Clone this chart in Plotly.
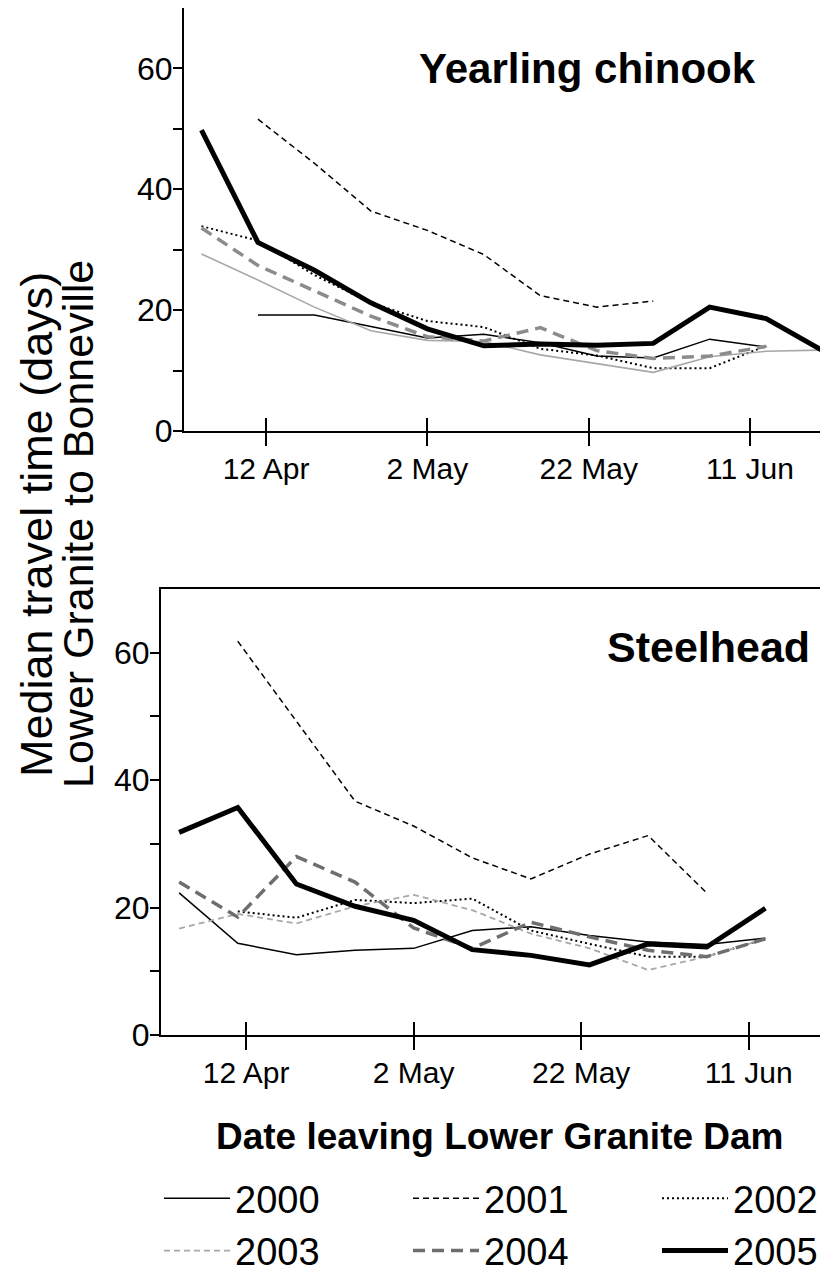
import plotly.graph_objects as go

# ---------------- data ----------------
dates = ["2005-04-04", "2005-04-11", "2005-04-18", "2005-04-25", "2005-05-02", "2005-05-09",
         "2005-05-16", "2005-05-23", "2005-05-30", "2005-06-06", "2005-06-13", "2005-06-20"]
years = ["2000", "2001", "2002", "2003", "2004", "2005"]

# Yearling chinook (top panel)
chinook_2000 = [None, 19.2, 19.2, 17.3, 15.4, 16.0, 14.6, 12.4, 12.1, 15.2, 13.9, None]
chinook_2001 = [None, 51.6, 44.3, 36.4, 33.2, 29.2, 22.4, 20.5, 21.5, None, None, None]
chinook_2002 = [33.9, 31.5, 25.8, 21.2, 18.2, 17.2, 13.6, 12.5, 10.4, 10.4, 14.1, None]
chinook_2003 = [29.3, 25.0, 20.5, 16.6, 15.0, 14.8, 12.6, 11.2, 9.7, 12.3, 13.2, 13.4]
chinook_2004 = [33.6, 27.4, 23.2, 19.0, 15.6, 14.9, 17.1, 13.3, 12.0, 12.4, 14.0, None]
chinook_2005 = [49.8, 31.2, 26.6, 21.2, 16.9, 14.1, 14.4, 14.2, 14.5, 20.5, 18.6, 13.3]

# Steelhead (bottom panel)
steel_2000 = [22.3, 14.4, 12.6, 13.3, 13.6, 16.4, 17.0, 15.6, 14.6, 14.2, 15.2, None]
steel_2001 = [None, 61.8, 49.2, 36.7, 32.8, 27.8, 24.5, 28.4, 31.3, 22.3, None, None]
steel_2002 = [None, 19.4, 18.4, 21.2, 20.7, 21.4, 16.4, 14.3, 12.3, 12.3, 15.1, None]
steel_2003 = [16.7, 19.0, 17.5, 20.2, 22.0, 19.6, 15.9, 13.6, 10.2, 12.3, 15.1, None]
steel_2004 = [24.0, 18.5, 28.0, 24.0, 16.8, 13.6, 17.7, 15.4, 13.3, 12.3, 15.1, None]
steel_2005 = [31.8, 35.7, 23.7, 20.2, 18.0, 13.4, 12.5, 11.0, 14.3, 13.8, 19.9, None]

x_tickvals = ["2005-04-12", "2005-05-02", "2005-05-22", "2005-06-11"]
x_ticktext = ["12 Apr", "2 May", "22 May", "11 Jun"]
y_tickvals = [0, 10, 20, 30, 40, 50, 60]
y_ticktext = ["0", "", "20", "", "40", "", "60"]
x_range = ["2005-04-01 20:00", "2005-06-20 10:00"]
y_range = [0, 70]

# ---------------- styles ----------------
FONT = "Arial, Liberation Sans, Helvetica, sans-serif"
styles_top = {
    "2000": dict(color="black", width=1.5, dash="solid"),
    "2001": dict(color="black", width=1.5, dash="6px,4px"),
    "2002": dict(color="black", width=2, dash="2px,3px"),
    "2003": dict(color="#a8a8a8", width=1.6, dash="solid"),
    "2004": dict(color="#8c8c8c", width=3.5, dash="12px,7px"),
    "2005": dict(color="black", width=5, dash="solid"),
}
styles_bot = {
    "2000": dict(color="black", width=1.5, dash="solid"),
    "2001": dict(color="black", width=1.5, dash="6px,4px"),
    "2002": dict(color="black", width=2, dash="2px,3px"),
    "2003": dict(color="#a8a8a8", width=1.8, dash="6px,4px"),
    "2004": dict(color="#6e6e6e", width=3.5, dash="12px,7px"),
    "2005": dict(color="black", width=5, dash="solid"),
}

top_series = [chinook_2000, chinook_2001, chinook_2002, chinook_2003, chinook_2004, chinook_2005]
bot_series = [steel_2000, steel_2001, steel_2002, steel_2003, steel_2004, steel_2005]

fig = go.Figure()
for yr, vals in zip(years, top_series):
    fig.add_trace(go.Scatter(x=dates, y=vals, mode="lines", name=yr, line=styles_top[yr],
                             xaxis="x", yaxis="y", showlegend=False, connectgaps=False,
                             hoverinfo="skip"))
for yr, vals in zip(years, bot_series):
    fig.add_trace(go.Scatter(x=dates, y=vals, mode="lines", name=yr, line=styles_bot[yr],
                             xaxis="x2", yaxis="y2", showlegend=True, connectgaps=False,
                             hoverinfo="skip"))
# empty traces to activate the overlay axes carrying the inner half of the x ticks
fig.add_trace(go.Scatter(x=[], y=[], xaxis="x3", yaxis="y", showlegend=False))
fig.add_trace(go.Scatter(x=[], y=[], xaxis="x4", yaxis="y2", showlegend=False))

# page is 828x1276; the figure div sits at an 8px body margin
OFF = 8
W, H = 828 - OFF, 1276 - OFF
def clamp(v):
    return max(0.0, min(1.0, v))
def px_x(p):
    return (p - OFF) / W
def px_y(p):
    return 1 - (p - OFF) / H

top_xdom = [clamp(px_x(184)), clamp(px_x(826))]
top_ydom = [clamp(px_y(431)), clamp(px_y(4))]
bot_xdom = [clamp(px_x(161)), clamp(px_x(827.5))]
bot_ydom = [clamp(px_y(1035)), clamp(px_y(589))]

xcommon = dict(type="date", range=x_range, tickvals=x_tickvals, ticktext=x_ticktext,
               ticks="outside", ticklen=13, tickwidth=2, tickcolor="black",
               showline=True, linecolor="black", linewidth=2, mirror=True,
               showgrid=False, zeroline=False, ticklabelstandoff=-3,
               tickfont=dict(family=FONT, size=30, color="black"))
ycommon = dict(range=y_range, tickvals=y_tickvals, ticktext=y_ticktext,
               ticks="outside", ticklen=9, tickwidth=2, tickcolor="black",
               showline=True, linecolor="black", linewidth=2, mirror=True,
               showgrid=False, zeroline=False, ticklabelstandoff=-6,
               tickfont=dict(family=FONT, size=32, color="black"))
inner = dict(type="date", range=x_range, tickvals=x_tickvals, ticktext=x_ticktext,
             ticks="inside", ticklen=13, tickwidth=2, tickcolor="black",
             showline=False, showticklabels=False, showgrid=False, zeroline=False)

fig.update_layout(
    width=W, height=H, autosize=False,
    margin=dict(l=0, r=0, t=0, b=0, pad=0, autoexpand=False),
    paper_bgcolor="white", plot_bgcolor="white",
    font=dict(family=FONT, color="black"),
    xaxis=dict(domain=top_xdom, anchor="y", **xcommon),
    yaxis=dict(domain=top_ydom, anchor="x", **ycommon),
    xaxis2=dict(domain=bot_xdom, anchor="y2", **xcommon),
    yaxis2=dict(domain=bot_ydom, anchor="x2", **ycommon),
    xaxis3=dict(overlaying="x", anchor="y", **inner),
    xaxis4=dict(overlaying="x2", anchor="y2", **inner),
    showlegend=True,
    legend=dict(orientation="h", x=px_x(159), xanchor="left", y=px_y(1167), yanchor="top",
                entrywidth=168, entrywidthmode="pixels", itemwidth=66,
                font=dict(family=FONT, size=38, color="black"),
                bgcolor="rgba(0,0,0,0)", borderwidth=0, tracegroupgap=0,
                traceorder="normal"),
)

annots = [
    dict(text="<b>Yearling chinook</b>", x=px_x(587), y=px_y(68), xanchor="center", yanchor="middle",
         font=dict(family=FONT, size=42, color="black")),
    dict(text="<b>Steelhead</b>", x=px_x(812), y=px_y(647), xanchor="right", yanchor="middle",
         font=dict(family=FONT, size=43, color="black")),
    dict(text="<b>Date leaving Lower Granite Dam</b>", x=px_x(500), y=px_y(1136), xanchor="center",
         yanchor="middle", font=dict(family=FONT, size=37, color="black")),
    dict(text="Median travel time (days)", x=px_x(36), y=px_y(525), xanchor="center", yanchor="middle",
         textangle=-90, font=dict(family=FONT, size=45, color="black")),
    dict(text="Lower Granite to Bonneville", x=px_x(78), y=px_y(524), xanchor="center", yanchor="middle",
         textangle=-90, font=dict(family=FONT, size=43, color="black")),
]
for a in annots:
    fig.add_annotation(xref="paper", yref="paper", showarrow=False, **a)

fig.write_html("out.html")
